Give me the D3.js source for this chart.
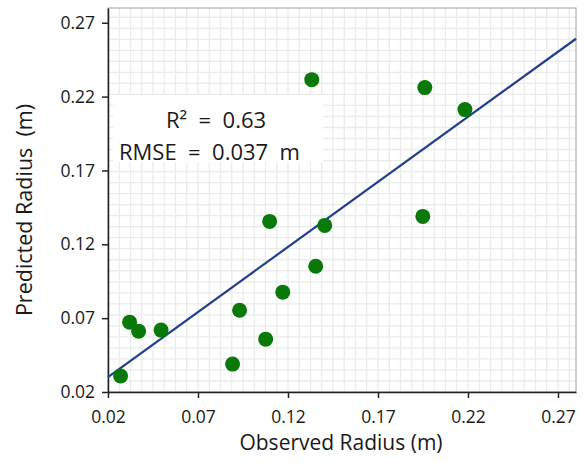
<!DOCTYPE html>
<html>
<head>
<meta charset="utf-8">
<script src="https://cdn.jsdelivr.net/npm/d3@7"></script>
<style>
  body { margin: 0; background: #fff; }
  text { font-family: "Open Sans", sans-serif; fill: #1a1a1a; white-space: pre; }
</style>
</head>
<body>
<svg id="chart" width="585" height="471"></svg>
<script>
// observed vs predicted radius (m)
const observed = [0.027, 0.032, 0.037, 0.0495, 0.0892, 0.0931, 0.1076, 0.1098, 0.1171, 0.1332, 0.1354, 0.1404, 0.1949, 0.1960, 0.2183];
const predicted = [0.0308, 0.0673, 0.0612, 0.0619, 0.0389, 0.0754, 0.0558, 0.1355, 0.0876, 0.2315, 0.1051, 0.1328, 0.1389, 0.2261, 0.2112];
const tickValues = [0.02, 0.07, 0.12, 0.17, 0.22, 0.27];
// fitted line y = a + b*x
const fitLine = [0.0125, 0.881];
const statLines = ["R\u00b2  =  0.63", "RMSE  =  0.037  m"];

const margin = { top: 8, right: 9, bottom: 79, left: 108 },
  width = 585 - margin.left - margin.right,
  height = 471 - margin.top - margin.bottom;

const svg = d3
  .select("#chart")
  .append("g")
  .attr("transform", `translate(${margin.left},${margin.top})`);

const x = d3.scaleLinear().domain([0.02, 0.28]).range([0, width]);
const y = d3.scaleLinear().domain([0.02, 0.28]).range([height, 0]);

// light grid
const gx = d3.range(0.02, 0.28, 0.05 / 8);
const gy = d3.range(0.02, 0.28, 0.05 / 6.7);
svg
  .append("g")
  .selectAll("line")
  .data(gx)
  .join("line")
  .attr("x1", (d) => x(d))
  .attr("x2", (d) => x(d))
  .attr("y1", 0)
  .attr("y2", height)
  .attr("stroke", "#ebebeb")
  .attr("stroke-width", 1.3);
svg
  .append("g")
  .selectAll("line")
  .data(gy)
  .join("line")
  .attr("x1", 0)
  .attr("x2", width)
  .attr("y1", (d) => y(d))
  .attr("y2", (d) => y(d))
  .attr("stroke", "#ebebeb")
  .attr("stroke-width", 1.3);

// frame
svg
  .append("rect")
  .attr("width", width)
  .attr("height", height)
  .attr("fill", "none")
  .attr("stroke", "#a0a0a0")
  .attr("stroke-width", 1);

// axes
const xAxis = svg
  .append("g")
  .attr("transform", `translate(0, ${height})`)
  .call(d3.axisBottom(x).tickValues(tickValues).tickFormat(d3.format(".2f")).tickSize(6).tickSizeOuter(0));
const yAxis = svg
  .append("g")
  .call(d3.axisLeft(y).tickValues(tickValues).tickFormat(d3.format(".2f")).tickSize(6).tickSizeOuter(0));

[xAxis, yAxis].forEach((a) => {
  a.select(".domain").attr("stroke", "#222").attr("stroke-width", 1.5);
  a.selectAll(".tick line").attr("stroke", "#222").attr("stroke-width", 1.5);
  a.selectAll("text").style("font-size", "17.5px").style("font-family", "Open Sans, sans-serif").attr("fill", "#1a1a1a");
});
xAxis.selectAll("text").attr("dy", "1.25em");
yAxis.selectAll("text").attr("x", -13);

// regression line
svg
  .append("line")
  .attr("x1", x(0.02))
  .attr("y1", y(fitLine[0] + fitLine[1] * 0.02))
  .attr("x2", x(0.28))
  .attr("y2", y(fitLine[0] + fitLine[1] * 0.28))
  .attr("stroke", "#213f8c")
  .attr("stroke-width", 2.2);

// points
svg
  .append("g")
  .selectAll("circle")
  .data(observed)
  .join("circle")
  .attr("cx", (d) => x(d))
  .attr("cy", (d, i) => y(predicted[i]))
  .attr("r", 7.5)
  .attr("fill", "#097a09");

// stats box
svg
  .append("rect")
  .attr("x", 5)
  .attr("y", 87)
  .attr("width", 210)
  .attr("height", 67)
  .attr("fill", "#fff");
svg
  .append("text")
  .attr("x", 108)
  .attr("y", 120)
  .attr("text-anchor", "middle")
  .style("font-size", "22px")
  .text(statLines[0]);
svg
  .append("text")
  .attr("x", 11)
  .attr("y", 152)
  .style("font-size", "22px")
  .text(statLines[1]);

// axis titles
svg
  .append("text")
  .attr("x", width / 2 - 1)
  .attr("y", height + 58)
  .attr("text-anchor", "middle")
  .style("font-size", "21px")
  .text("Observed Radius (m)");
svg
  .append("text")
  .attr("transform", `translate(-76, ${height / 2 + 10}) rotate(-90)`)
  .attr("text-anchor", "middle")
  .style("font-size", "21.5px")
  .text("Predicted Radius  (m)");
</script>
</body>
</html>
